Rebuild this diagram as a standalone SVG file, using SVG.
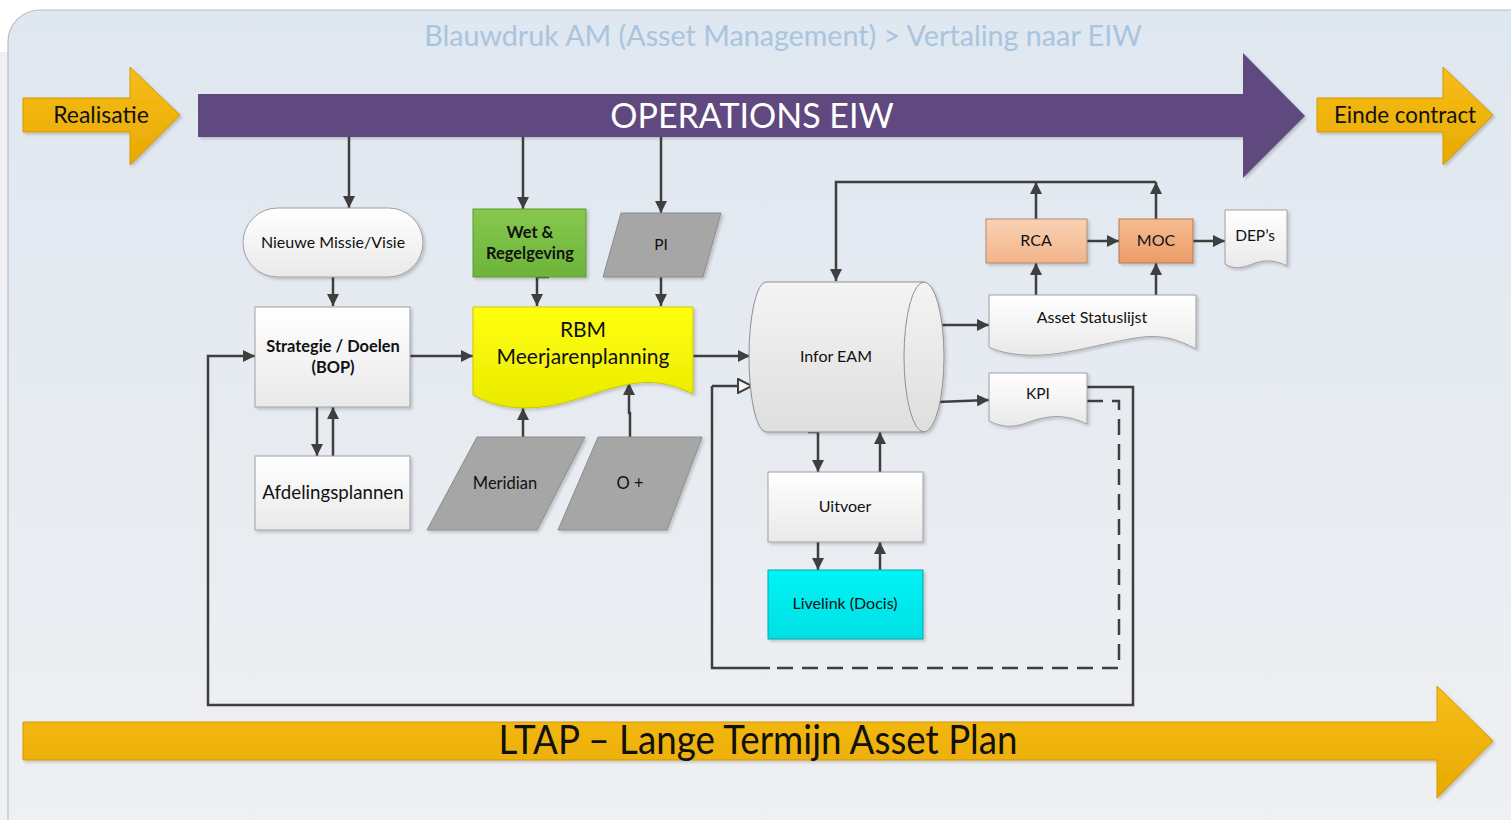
<svg xmlns="http://www.w3.org/2000/svg" width="1511" height="820" viewBox="0 0 1511 820">
<defs>
<linearGradient id="bg" x1="0" y1="0" x2="0" y2="1"><stop offset="0" stop-color="#dfe7f0"/><stop offset="1" stop-color="#eff0f2"/></linearGradient>
<linearGradient id="gold" x1="0" y1="0" x2="0" y2="1"><stop offset="0" stop-color="#f7bd1a"/><stop offset="1" stop-color="#e8aa00"/></linearGradient>
<linearGradient id="white" x1="0" y1="0" x2="0" y2="1"><stop offset="0" stop-color="#ffffff"/><stop offset="1" stop-color="#e9e9ea"/></linearGradient>
<linearGradient id="cyl" x1="0" y1="0" x2="0" y2="1"><stop offset="0" stop-color="#f4f4f4"/><stop offset="1" stop-color="#dedede"/></linearGradient>
<linearGradient id="green" x1="0" y1="0" x2="0" y2="1"><stop offset="0" stop-color="#86c84e"/><stop offset="1" stop-color="#6db43a"/></linearGradient>
<linearGradient id="yellow" x1="0" y1="0" x2="0" y2="1"><stop offset="0" stop-color="#ffff10"/><stop offset="1" stop-color="#eaea00"/></linearGradient>
<linearGradient id="rca" x1="0" y1="0" x2="0" y2="1"><stop offset="0" stop-color="#f9d2b4"/><stop offset="1" stop-color="#f2b48a"/></linearGradient>
<linearGradient id="moc" x1="0" y1="0" x2="0" y2="1"><stop offset="0" stop-color="#f6bc90"/><stop offset="1" stop-color="#ec9c68"/></linearGradient>
<linearGradient id="cyan" x1="0" y1="0" x2="0" y2="1"><stop offset="0" stop-color="#00f4f6"/><stop offset="1" stop-color="#00dfe4"/></linearGradient>
<filter id="sh" x="-10%" y="-10%" width="130%" height="130%"><feDropShadow dx="2" dy="2" stdDeviation="1.5" flood-color="#000" flood-opacity="0.18"/></filter>
<marker id="ah" viewBox="0 0 12 12" refX="12" refY="6" markerWidth="12" markerHeight="12" markerUnits="userSpaceOnUse" orient="auto"><path d="M0,0 L12,6 L0,12 Z" fill="#3f3f3f"/></marker>
<marker id="ahh" viewBox="0 0 16 16" refX="15" refY="8" markerWidth="16" markerHeight="16" markerUnits="userSpaceOnUse" orient="auto"><path d="M1,1 L15,8 L1,15 Z" fill="#f4f4f4" stroke="#3f3f3f" stroke-width="2"/></marker>
<style>
.t{font-family:Lato,"Open Sans","Liberation Sans",sans-serif;fill:#111111;text-anchor:middle}
.b{font-weight:bold}
.box{stroke:#a0a0a0;stroke-width:1;filter:url(#sh)}
.par{fill:#a6a6a6;stroke:#8c8c8c;stroke-width:1;filter:url(#sh)}
.c{fill:none;stroke:#3f3f3f;stroke-width:2.5}
.ca{fill:none;stroke:#3f3f3f;stroke-width:2.5;marker-end:url(#ah)}
.d{fill:none;stroke:#3f3f3f;stroke-width:2.5;stroke-dasharray:16 9}
</style>
</defs>
<rect width="1511" height="820" fill="#ffffff"/>
<rect x="0" y="52" width="12" height="768" fill="#eef0f3"/>
<rect x="8" y="10" width="1540" height="840" rx="32" fill="url(#bg)" stroke="#b9bdc2" stroke-width="1.2"/>
<text class="t" x="783" y="46" font-size="28.7" style="fill:#a9c5de">Blauwdruk AM (Asset Management) &gt; Vertaling naar EIW</text>

<g id="realisatie">
<path d="M23,98 H130 V67 L180,115 L130,165 V132 H23 Z" fill="url(#gold)" stroke="#d49a00" stroke-width="1" filter="url(#sh)"/>
<text class="t" x="101" y="123" font-size="23">Realisatie</text>
</g>
<g id="operations">
<path d="M198,94 H1243 V53 L1305,116 L1243,178 V137 H198 Z" fill="#5e4a7e" filter="url(#sh)"/>
<text class="t" x="752" y="128" font-size="34" style="fill:#ffffff">OPERATIONS EIW</text>
</g>
<g id="einde">
<path d="M1317,98 H1443 V67 L1493,115 L1443,165 V132 H1317 Z" fill="url(#gold)" stroke="#d49a00" stroke-width="1" filter="url(#sh)"/>
<text class="t" x="1405" y="123" font-size="22.4">Einde contract</text>
</g>
<g id="ltap">
<path d="M23,722 H1437 V686 L1493,741 L1437,798 V760 H23 Z" fill="url(#gold)" stroke="#d49a00" stroke-width="1" filter="url(#sh)"/>
<text class="t" x="758" y="754" font-size="40" textLength="519" lengthAdjust="spacingAndGlyphs">LTAP – Lange Termijn Asset Plan</text>
</g>

<g id="connectors">
<path class="ca" d="M349,137 V208"/>
<path class="ca" d="M523,137 V209"/>
<path class="ca" d="M661,137 V213"/>
<path class="ca" d="M333,277 V306"/>
<path class="ca" d="M549,277 H537 V306"/>
<path class="ca" d="M661,277 V306"/>
<path class="ca" d="M410,356 H473"/>
<path class="ca" d="M317,407 V456"/>
<path class="ca" d="M333,456 V407"/>
<path class="ca" d="M523,437 V408"/>
<path class="ca" d="M630,437 V413 H629 V383"/>
<path class="ca" d="M693,356 H750"/>
<path class="c" d="M770,668 H712 V386"/>
<path d="M712,386 H752" fill="none" stroke="#3f3f3f" stroke-width="2.5" marker-end="url(#ahh)"/>
<path class="d" d="M1087,401 H1119 V668 H770"/>
<path class="ca" d="M1087,387 H1133 V705 H208 V356 H255"/>
<path class="ca" d="M937,325 H989"/>
<path class="ca" d="M937,402 L989,400"/>
<path class="ca" d="M1036,295 V263"/>
<path class="ca" d="M1156,295 V263"/>
<path class="ca" d="M1087,241 H1119"/>
<path class="ca" d="M1193,241 H1225"/>
<path class="ca" d="M1036,219 V182"/>
<path class="ca" d="M1156,219 V182"/>
<path class="ca" d="M1156,182 H836 V281"/>
<path class="ca" d="M808,432 H818 V472"/>
<path class="ca" d="M880,472 V432"/>
<path class="ca" d="M818,542 V570"/>
<path class="ca" d="M880,570 V542"/>
</g>

<g id="nieuwe">
<rect class="box" x="243" y="208" width="180" height="69" rx="34.5" fill="url(#white)"/>
<text class="t" x="333" y="248" font-size="16">Nieuwe Missie/Visie</text>
</g>
<g id="strategie">
<rect class="box" x="255" y="307" width="155" height="100" fill="url(#white)"/>
<text class="t b" x="333" y="352" font-size="16.4">Strategie / Doelen</text>
<text class="t b" x="333" y="373" font-size="16.4">(BOP)</text>
</g>
<g id="afdelingsplannen">
<rect class="box" x="255" y="456" width="155" height="74" fill="url(#white)"/>
<text class="t" x="333" y="499" font-size="18.7">Afdelingsplannen</text>
</g>
<g id="wet">
<rect class="box" x="473" y="209" width="113" height="68" fill="url(#green)" style="stroke:#5f9a35"/>
<text class="t b" x="530" y="238" font-size="16.4">Wet &amp;</text>
<text class="t b" x="530" y="259" font-size="16.4">Regelgeving</text>
</g>
<g id="pi">
<path class="par" d="M621,213 H721 L703,277 H603 Z"/>
<text class="t" x="661" y="250" font-size="15.5">PI</text>
</g>
<g id="rbm">
<path class="box" d="M473,307 H693 V394 C668,382 650,380 625,385 C590,392 565,408 525,408 C500,408 485,401 473,395 Z" fill="url(#yellow)" style="stroke:#c8c800"/>
<text class="t" x="583" y="337" font-size="21">RBM</text>
<text class="t" x="583" y="364" font-size="21">Meerjarenplanning</text>
</g>
<g id="meridian">
<path class="par" d="M477,437 H585 L537,530 H427 Z"/>
<text class="t" x="505" y="489" font-size="16.5">Meridian</text>
</g>
<g id="oplus">
<path class="par" d="M598,437 H702 L667,530 H558 Z"/>
<text class="t" x="630" y="489" font-size="16.5">O +</text>
</g>
<g id="infor">
<path class="box" d="M766,282 H924 A20,75 0 0 1 924,432 H766 A17,75 0 0 1 766,282 Z" fill="url(#cyl)" style="stroke:#909090"/>
<path d="M924,282 A20,75 0 0 0 924,432" fill="none" stroke="#909090" stroke-width="1"/>
<text class="t" x="836" y="362" font-size="16">Infor EAM</text>
</g>
<g id="asset">
<path class="box" d="M989,295 H1196 V349 C1175,338 1160,334 1135,338 C1090,346 1060,357 1025,355 C1008,354 997,351 989,347 Z" fill="url(#white)"/>
<text class="t" x="1092" y="323" font-size="16">Asset Statuslijst</text>
</g>
<g id="kpi">
<path class="box" d="M989,373 H1087 V424 C1070,416 1055,414 1035,420 C1018,426 1008,430 989,421 Z" fill="url(#white)"/>
<text class="t" x="1038" y="399" font-size="15.5">KPI</text>
</g>
<g id="rca">
<rect class="box" x="986" y="219" width="101" height="44" fill="url(#rca)" style="stroke:#b08a70"/>
<text class="t" x="1036" y="246" font-size="16">RCA</text>
</g>
<g id="moc">
<rect class="box" x="1119" y="219" width="74" height="44" fill="url(#moc)" style="stroke:#b07a55"/>
<text class="t" x="1156" y="246" font-size="16">MOC</text>
</g>
<g id="deps">
<path class="box" d="M1225,210 H1287 V266 C1277,261 1268,259 1255,263 C1243,268 1234,270 1225,264 Z" fill="url(#white)"/>
<text class="t" x="1255" y="241" font-size="15.5">DEP’s</text>
</g>
<g id="uitvoer">
<rect class="box" x="768" y="472" width="155" height="70" fill="url(#white)"/>
<text class="t" x="845" y="512" font-size="16">Uitvoer</text>
</g>
<g id="livelink">
<rect class="box" x="768" y="570" width="155" height="69" fill="url(#cyan)" style="stroke:#00a8b0"/>
<text class="t" x="845" y="609" font-size="16">Livelink (Docis)</text>
</g>
</svg>
